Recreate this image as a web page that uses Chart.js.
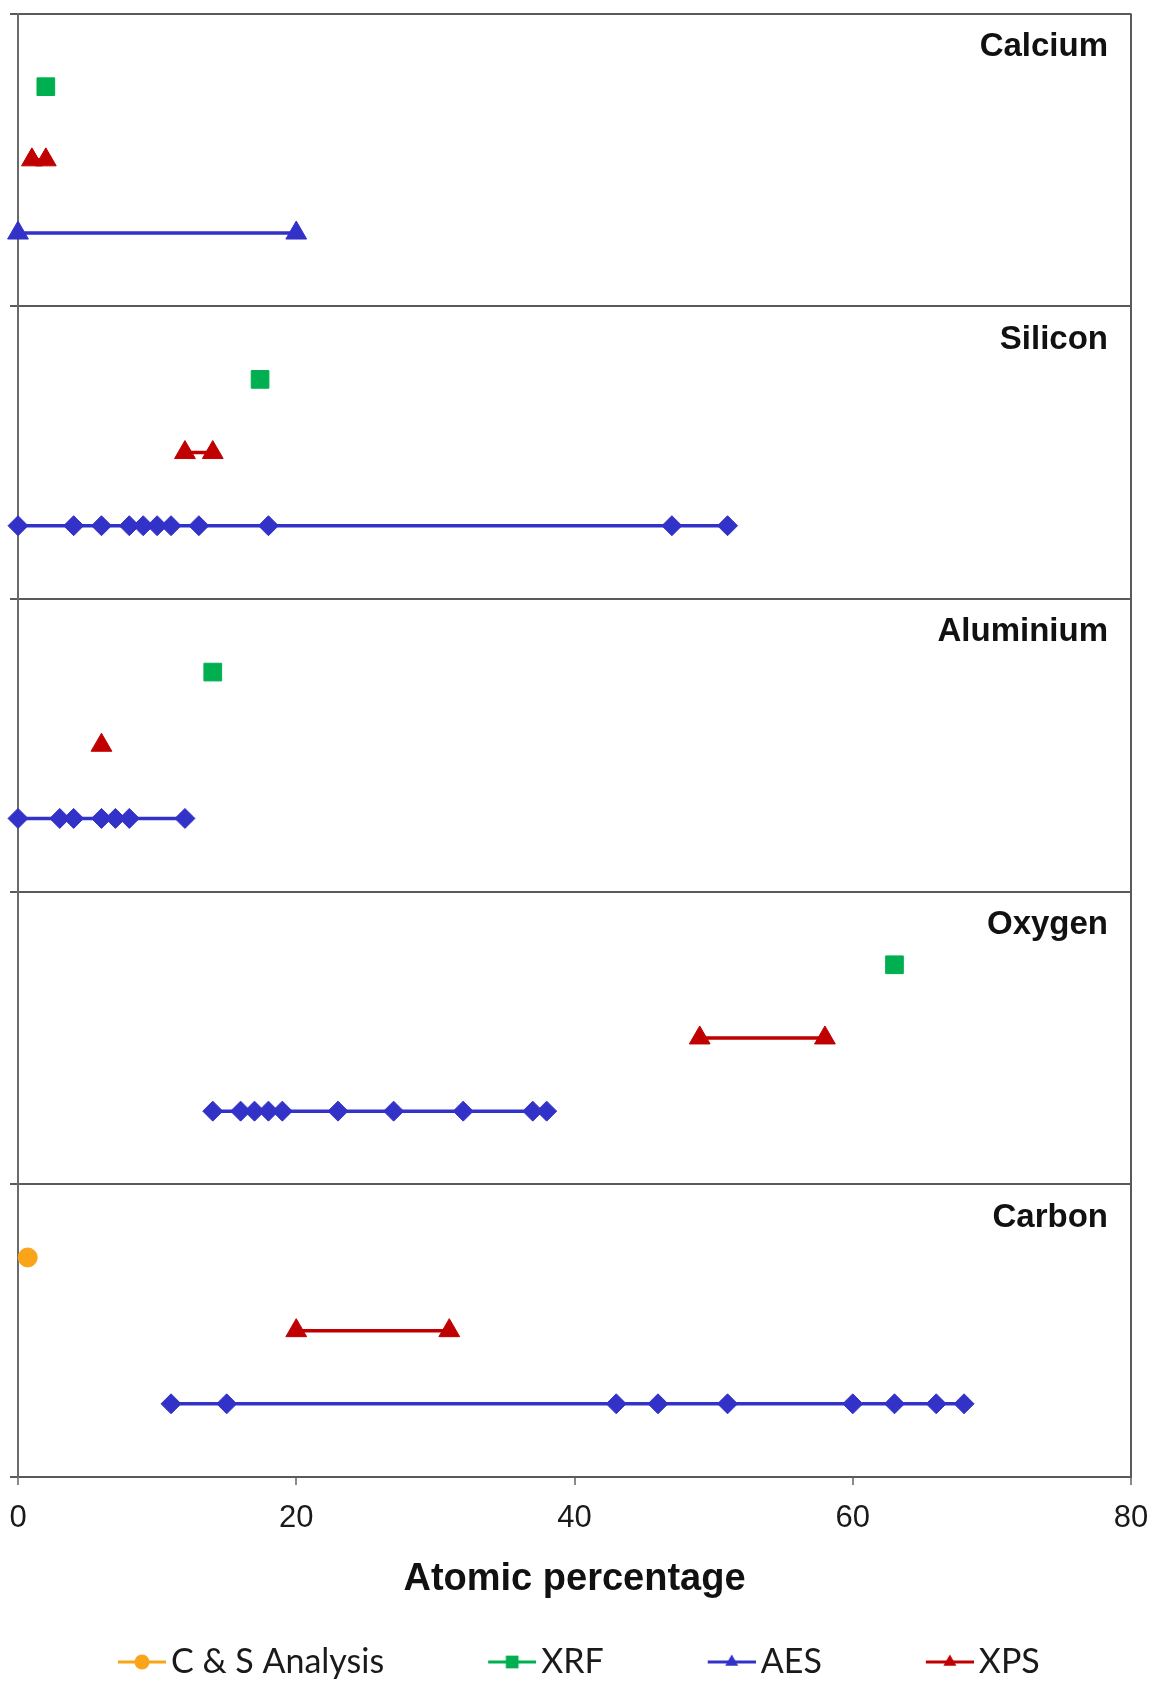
<!DOCTYPE html>
<html>
<head>
<meta charset="utf-8">
<script src="https://cdn.jsdelivr.net/npm/chart.js@4"></script>
<style>
  html, body { margin: 0; padding: 0; background: #ffffff; }
  canvas { display: block; }
</style>
</head>
<body>
<canvas id="chart" width="1155" height="1682"></canvas>
<script>
// Panels from top to bottom
const elements = ['Calcium', 'Silicon', 'Aluminium', 'Oxygen', 'Carbon'];
const xTicks = [0, 20, 40, 60, 80];

// Atomic percentage readings per element, same order as `elements`
const csAnalysis = [[], [], [], [], [0.7]];
const xrf = [[2], [17.4], [14], [63], []];
const aes = [
  [0, 20],
  [0, 4, 6, 8, 9, 10, 11, 13, 18, 47, 51],
  [0, 3, 4, 6, 7, 8, 12],
  [14, 16, 17, 18, 19, 23, 27, 32, 37, 38],
  [11, 15, 43, 46, 51, 60, 63, 66, 68]
];
const xps = [[1, 2], [12, 14], [6], [49, 58], [20, 31]];

const methods = ['C & S Analysis', 'XRF', 'AES', 'XPS'];

const COLORS = {
  cs: '#FAA41A',
  xrf: '#00B050',
  aes: '#3232C8',
  xps: '#C00000'
};

const PANEL = 4; // height of each element band on the y scale

// Turn per-element lists into points; a null point breaks the line between panels
function points(lists, row) {
  const out = [];
  lists.forEach((list, k) => {
    if (!list.length) return;
    if (out.length) out.push({ x: null, y: null });
    const base = (elements.length - 1 - k) * PANEL;
    list.forEach(v => out.push({ x: v, y: base + row, el: k }));
  });
  return out;
}

function legendIcon(color, shape) {
  const W = 154, H = 34;
  const c = document.createElement('canvas');
  c.width = W; c.height = H;
  const g = c.getContext('2d');
  g.strokeStyle = color;
  g.fillStyle = color;
  g.lineWidth = 3;
  g.beginPath();
  g.moveTo(W - 48, H / 2);
  g.lineTo(W, H / 2);
  g.stroke();
  Chart.helpers.drawPoint(g, { pointStyle: shape, radius: shape === 'rect' ? 9 : 7.5, borderWidth: 0 }, W - 24, H / 2);
  return c;
}

const legendShapes = ['circle', 'rect', 'triangle', 'triangle'];
const legendColors = [COLORS.cs, COLORS.xrf, COLORS.aes, COLORS.xps];

const isCalcium = ctx => ctx.raw && ctx.raw.el === 0;

// Element names in the upper right of each band
const panelLabels = {
  id: 'panelLabels',
  afterDatasetsDraw(chart) {
    const { ctx, chartArea, scales: { y } } = chart;
    ctx.save();
    ctx.font = 'bold 33px "Liberation Sans", Arial, sans-serif';
    ctx.fillStyle = '#111111';
    ctx.textAlign = 'right';
    ctx.textBaseline = 'alphabetic';
    elements.forEach((name, k) => {
      const top = y.getPixelForValue((elements.length - k) * PANEL);
      ctx.fillText(name, chartArea.right - 23, top + 42.5);
    });
    ctx.restore();
  }
};

// Right-hand edge of the plot frame
const frame = {
  id: 'frame',
  beforeDatasetsDraw(chart) {
    const { ctx, chartArea } = chart;
    ctx.save();
    ctx.strokeStyle = '#5a5a5a';
    ctx.lineWidth = 2;
    ctx.beginPath();
    ctx.moveTo(chartArea.right, chartArea.top);
    ctx.lineTo(chartArea.right, chartArea.bottom);
    ctx.stroke();
    ctx.restore();
  }
};

const baseSet = {
  showLine: true,
  spanGaps: false,
  borderWidth: 3.5,
  pointBorderWidth: 1,
  clip: false
};

new Chart(document.getElementById('chart'), {
  type: 'scatter',
  data: {
    datasets: [
      Object.assign({}, baseSet, {
        label: methods[0],
        data: points(csAnalysis, 3),
        borderColor: COLORS.cs,
        backgroundColor: COLORS.cs,
        pointStyle: 'circle',
        pointRadius: 9.5
      }),
      Object.assign({}, baseSet, {
        label: methods[1],
        data: points(xrf, 3),
        borderColor: COLORS.xrf,
        backgroundColor: COLORS.xrf,
        pointStyle: 'rect',
        pointRadius: 12.5
      }),
      Object.assign({}, baseSet, {
        label: methods[2],
        data: points(aes, 1),
        borderColor: COLORS.aes,
        backgroundColor: COLORS.aes,
        pointStyle: ctx => isCalcium(ctx) ? 'triangle' : 'rectRot',
        pointRadius: ctx => isCalcium(ctx) ? 12 : 10
      }),
      Object.assign({}, baseSet, {
        label: methods[3],
        data: points(xps, 2),
        borderColor: COLORS.xps,
        backgroundColor: COLORS.xps,
        pointStyle: 'triangle',
        pointRadius: 12
      })
    ]
  },
  options: {
    responsive: false,
    animation: false,
    events: [],
    layout: { padding: { top: 11, left: 14, right: 24, bottom: -7 } },
    scales: {
      x: {
        type: 'linear',
        min: 0,
        max: 80,
        afterBuildTicks: s => { s.ticks = xTicks.map(v => ({ value: v })); },
        ticks: {
          maxRotation: 0,
          padding: 15,
          color: '#1a1a1a',
          font: { family: '"Liberation Sans", Arial, sans-serif', size: 31 }
        },
        grid: { drawOnChartArea: false, drawTicks: true, tickLength: 8, color: '#8a8a8a', lineWidth: 2 },
        border: { color: '#5a5a5a', width: 2 },
        title: {
          display: true,
          text: 'Atomic percentage',
          color: '#111111',
          font: { family: '"Liberation Sans", Arial, sans-serif', size: 38, weight: 'bold' },
          padding: { top: 0, bottom: 33 }
        },
        afterFit: s => {
          s.height = 158;
          // edge tick labels fit inside the page margins
          s.paddingLeft = 0;
          s.paddingRight = 0;
        }
      },
      y: {
        type: 'linear',
        min: 0,
        max: elements.length * PANEL,
        ticks: { stepSize: PANEL, display: false },
        grid: { color: '#5a5a5a', lineWidth: 2, drawTicks: true, tickLength: 8 },
        border: { color: '#6a6a6a', width: 2 },
        afterFit: s => { s.width = 4; }
      }
    },
    plugins: {
      tooltip: { enabled: false },
      legend: {
        position: 'bottom',
        align: 'start',
        labels: {
          usePointStyle: true,
          pointStyleWidth: 130,
          padding: 10,
          color: '#1a1a1a',
          font: { family: 'Lato, "Open Sans", sans-serif', size: 34 },
          generateLabels: chart => chart.data.datasets.map((ds, i) => ({
            text: ds.label,
            pointStyle: legendIcon(legendColors[i], legendShapes[i]),
            fillStyle: 'transparent',
            strokeStyle: 'transparent',
            lineWidth: 0,
            hidden: false,
            datasetIndex: i,
            fontColor: '#1a1a1a'
          }))
        }
      }
    }
  },
  plugins: [frame, panelLabels]
});
</script>
</body>
</html>
